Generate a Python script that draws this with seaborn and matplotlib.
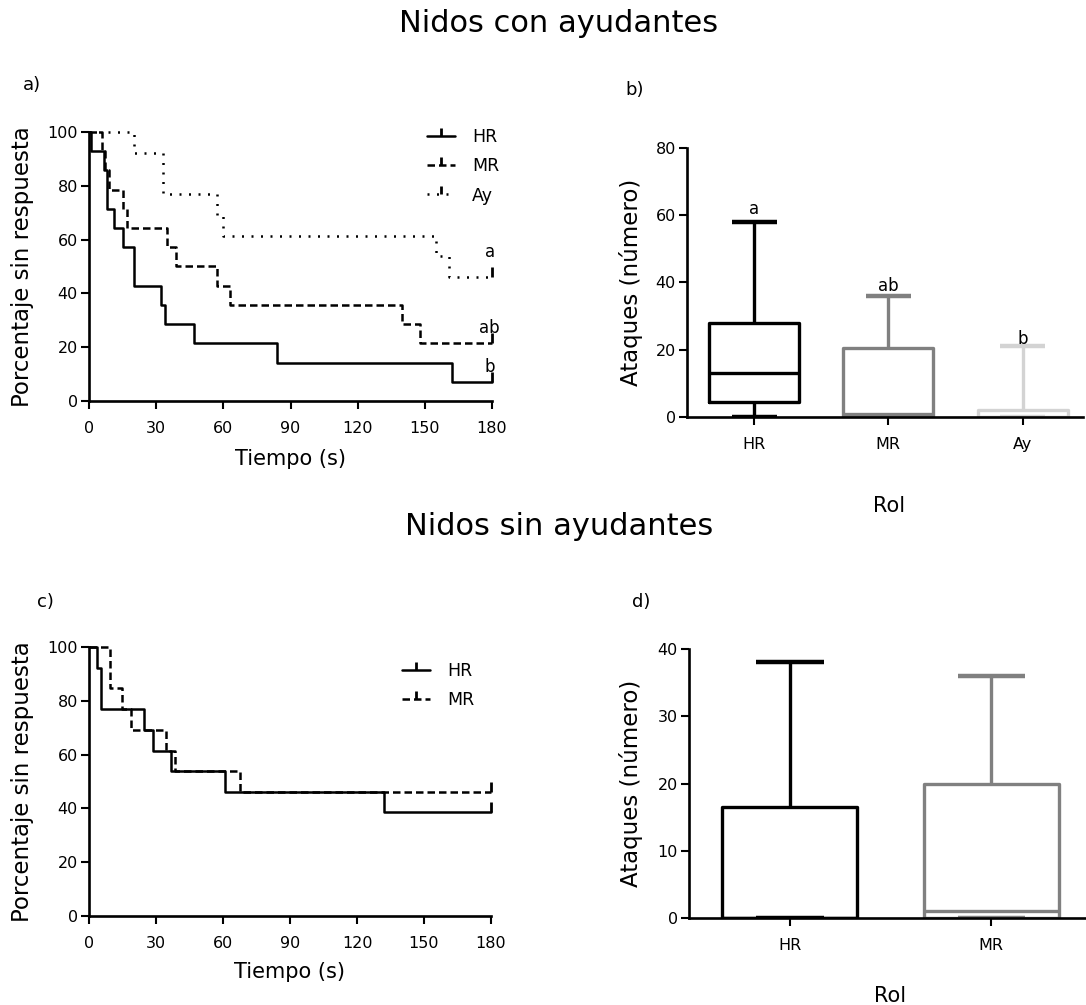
import numpy as np
import pandas as pd
import matplotlib
matplotlib.use("Agg")
import matplotlib.pyplot as plt
import seaborn as sns
from matplotlib.lines import Line2D

# ---------------- data ----------------
# Panel a: Kaplan-Meier (nidos con ayudantes)
a_hr_t = [0, 1, 6.5, 8, 11, 15, 20, 32, 34, 47, 84, 162, 180]
a_hr_s = [100, 92.9, 85.7, 71.4, 64.3, 57.1, 42.9, 35.7, 28.6, 21.4, 14.3, 7.1, 7.1]
a_mr_t = [0, 6, 7, 9, 15, 17, 35, 39, 57, 63, 140, 148, 180]
a_mr_s = [100, 92.9, 85.7, 78.6, 71.4, 64.3, 57.1, 50, 42.9, 35.7, 28.6, 21.4, 21.4]
a_ay_t = [0, 20, 33, 57, 60, 155, 161, 180]
a_ay_s = [100, 92.3, 76.9, 69.2, 61.5, 53.8, 46.2, 46.2]
a_letters = ["a", "ab", "b"]
a_letter_y = [55.5, 27.3, 12.8]

# Panel c: Kaplan-Meier (nidos sin ayudantes)
c_hr_t = [0, 3.4, 5.4, 24.6, 28.5, 36.5, 61, 132, 180]
c_hr_s = [100, 92.3, 76.9, 69.2, 61.5, 53.8, 46.2, 38.5, 38.5]
c_mr_t = [0, 9.5, 14.8, 18.7, 34.6, 38.5, 67.5, 180]
c_mr_s = [100, 84.6, 76.9, 69.2, 61.5, 53.8, 46.2, 46.2]

# Panel b: box plots (min, q1, median, q3, max)
roles_b = ["HR", "MR", "Ay"]
b_hr = [0, 4.5, 13, 28, 58]
b_mr = [0, 0, 1, 20.5, 36]
b_ay = [0, 0, 0, 2, 21]
b_letters = ["a", "ab", "b"]
b_letter_y = [62, 39, 23.2]

# Panel d: box plots (min, q1, median, q3, max)
roles_d = ["HR", "MR"]
d_hr = [0, 0, 0, 16.5, 38]
d_mr = [0, 0, 1, 20, 36]

# ---------------- style ----------------
sns.set_theme(style="ticks")
plt.rcParams['font.family'] = ['DejaVu Sans']
plt.rcParams['text.color'] = 'black'
plt.rcParams['axes.labelcolor'] = 'black'

W, H = 1086, 1005
fig = plt.figure(figsize=(W / 100, H / 100), dpi=100)


def axes_px(l, t, r, b):
    return fig.add_axes([l / W, 1 - b / H, (r - l) / W, (b - t) / H])


ax_a = axes_px(89, 132, 492, 401)
ax_b = axes_px(687, 148, 1083, 417)
ax_c = axes_px(89, 647, 491, 916)
ax_d = axes_px(689, 649, 1086, 918)

LS = {"HR": "-", "MR": (0, (3, 1.6)), "Ay": (0, (0.8, 3.0))}
PAL = {"HR": "black", "MR": "#808080", "Ay": "#d3d3d3"}
LW = 1.8


def km(ax, t, s, key):
    df = pd.DataFrame({"t": t, "s": s})
    sns.lineplot(data=df, x="t", y="s", color="black", linestyle=LS[key],
                 drawstyle="steps-post", estimator=None, sort=False,
                 lw=LW, ax=ax, clip_on=False, legend=False)
    ax.plot(t[-1:], s[-1:], ls="none", marker=2, ms=7, mew=2,
            color="black", clip_on=False)


def style_axes(ax):
    sns.despine(ax=ax)
    for sp in ["left", "bottom"]:
        ax.spines[sp].set_linewidth(1.9)
        ax.spines[sp].set_color("black")
    ax.tick_params(axis="both", direction="out", length=5.5, width=1.5,
                   color="black", labelsize=11.5, labelcolor="black")
    ax.tick_params(axis="x", pad=9)
    ax.tick_params(axis="y", pad=2.5)


def km_legend(ax, keys, anchor):
    handles = [Line2D([], [], color="black", ls=LS[k], lw=LW, marker=2,
                      ms=6, mew=2) for k in keys]
    ax.legend(handles, keys, loc="upper left", bbox_to_anchor=anchor,
              frameon=False, fontsize=12.5, handlelength=1.6,
              handletextpad=1.0, labelspacing=0.65, borderpad=0,
              borderaxespad=0, numpoints=1)


# ---------- panel a ----------
km(ax_a, a_hr_t, a_hr_s, "HR")
km(ax_a, a_mr_t, a_mr_s, "MR")
km(ax_a, a_ay_t, a_ay_s, "Ay")
ax_a.set_xlim(0, 180)
ax_a.set_ylim(0, 100)
ax_a.set_xticks(range(0, 181, 30))
ax_a.set_yticks(range(0, 101, 20))
style_axes(ax_a)
ax_a.set_xlabel("Tiempo (s)", fontsize=15)
ax_a.set_ylabel("Porcentaje sin respuesta", fontsize=16.5)
ax_a.xaxis.set_label_coords(0.5, -0.178)
ax_a.yaxis.set_label_coords(-0.136, 0.5)
km_legend(ax_a, ["HR", "MR", "Ay"], (0.839, 1.015))
for txt, yv in zip(a_letters, a_letter_y):
    ax_a.text(179, yv, txt, ha="center", va="center", fontsize=12)

# ---------- panel c ----------
km(ax_c, c_hr_t, c_hr_s, "HR")
km(ax_c, c_mr_t, c_mr_s, "MR")
ax_c.set_xlim(0, 180)
ax_c.set_ylim(0, 100)
ax_c.set_xticks(range(0, 181, 30))
ax_c.set_yticks(range(0, 101, 20))
style_axes(ax_c)
ax_c.set_xlabel("Tiempo (s)", fontsize=15)
ax_c.set_ylabel("Porcentaje sin respuesta", fontsize=16.5)
ax_c.xaxis.set_label_coords(0.5, -0.171)
ax_c.yaxis.set_label_coords(-0.136, 0.5)
km_legend(ax_c, ["HR", "MR"], (0.779, 0.944))


# ---------- box panels ----------
def boxpanel(ax, roles, vals, ymax, ystep):
    df = pd.DataFrame({"Rol": np.repeat(roles, [len(v) for v in vals]),
                       "Ataques": np.concatenate(vals)})
    sns.boxplot(data=df, x="Rol", y="Ataques", hue="Rol",
                palette={r: PAL[r] for r in roles}, fill=False,
                whis=(0, 100), width=0.67, linewidth=2.4, legend=False,
                capprops={"linewidth": 3.2, "solid_capstyle": "butt"},
                whiskerprops={"solid_capstyle": "butt"}, ax=ax)
    ax.set_ylim(0, ymax)
    ax.set_yticks(np.arange(0, ymax + 0.1, ystep))
    style_axes(ax)
    ax.set_ylabel("Ataques (número)", fontsize=16.5)


boxpanel(ax_b, roles_b, [b_hr, b_mr, b_ay], 80, 20)
ax_b.set_xlim(-0.5, 2.45)
ax_b.set_xlabel("Rol", fontsize=15)
ax_b.xaxis.set_label_coords(0.51, -0.294)
ax_b.yaxis.set_label_coords(-0.111, 0.5)
for i, (txt, yv) in enumerate(zip(b_letters, b_letter_y)):
    ax_b.text(i, yv, txt, ha="center", va="center", fontsize=12)

boxpanel(ax_d, roles_d, [d_hr, d_mr], 40, 10)
ax_d.set_xlim(-0.5, 1.47)
ax_d.set_xlabel("Rol", fontsize=15)
ax_d.xaxis.set_label_coords(0.506, -0.253)
ax_d.yaxis.set_label_coords(-0.116, 0.5)

# ---------- figure texts ----------
fig.text(559 / W, 1 - 32 / H, "Nidos con ayudantes", ha="center",
         va="baseline", fontsize=22)
fig.text(559 / W, 1 - 535 / H, "Nidos sin ayudantes", ha="center",
         va="baseline", fontsize=22)
fig.text(23 / W, 1 - 85 / H, "a)", ha="left", va="center", fontsize=13)
fig.text(625 / W, 1 - 90 / H, "b)", ha="left", va="center", fontsize=13)
fig.text(37 / W, 1 - 602 / H, "c)", ha="left", va="center", fontsize=13)
fig.text(632 / W, 1 - 602 / H, "d)", ha="left", va="center", fontsize=13)

fig.savefig("out.png", dpi=100)
